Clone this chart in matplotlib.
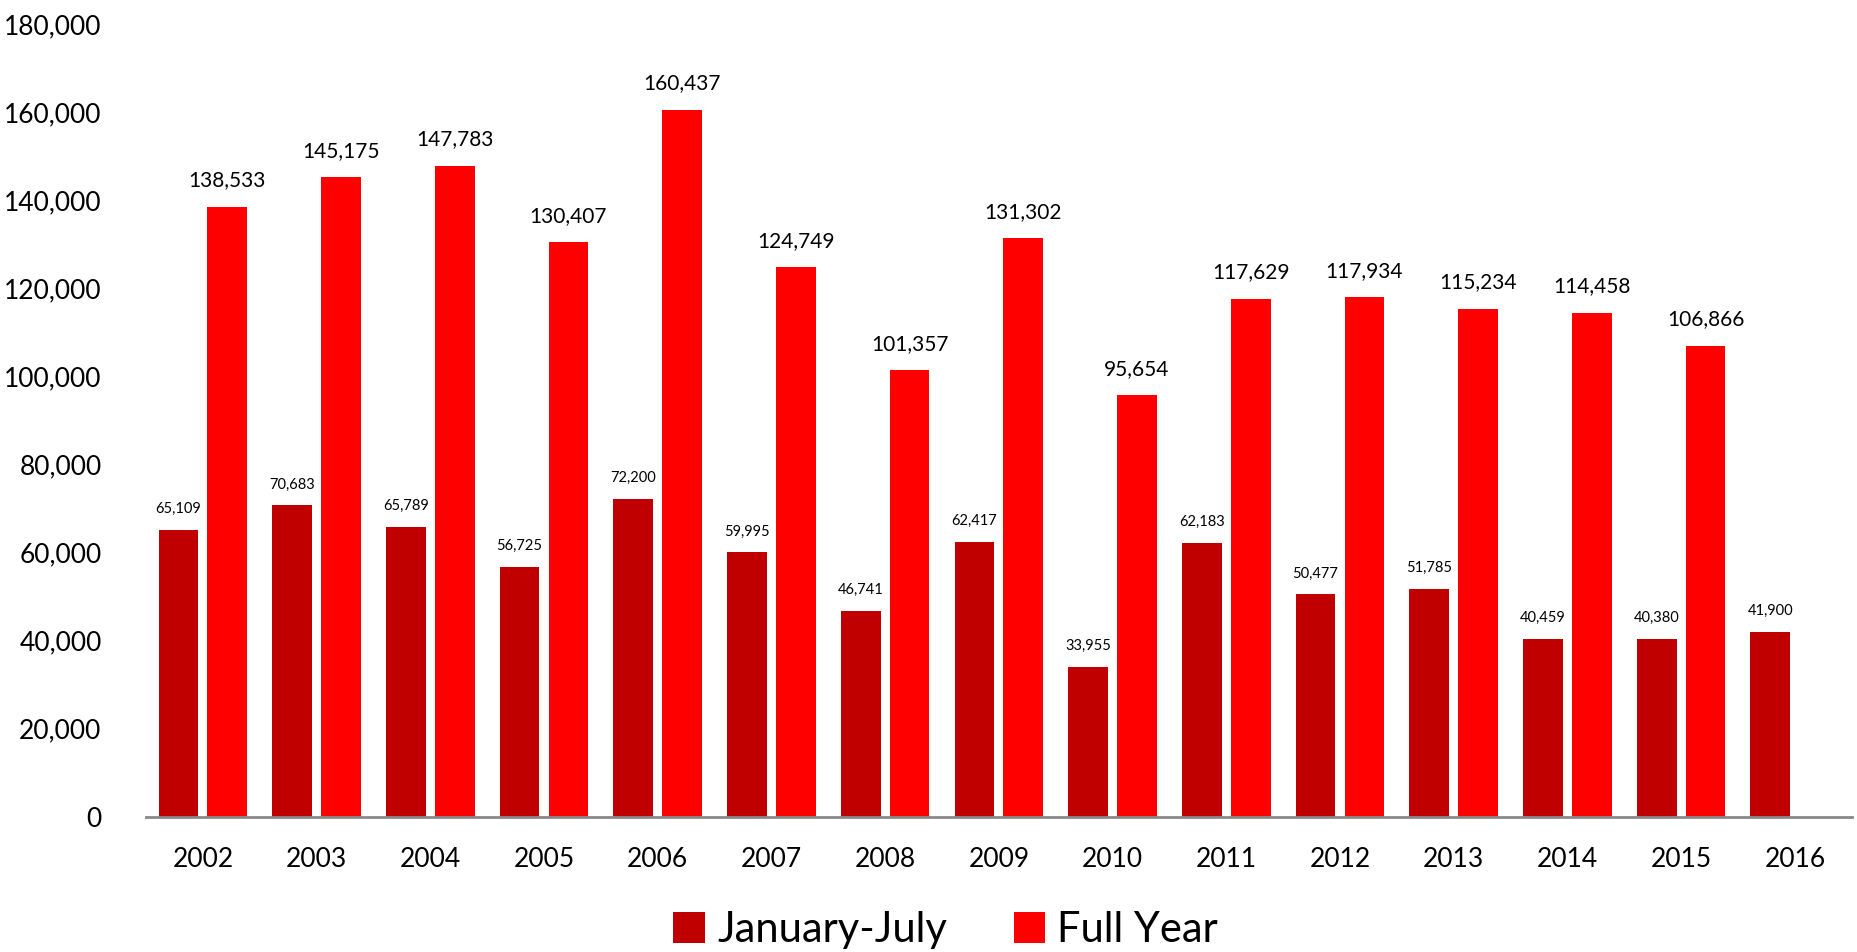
import numpy as np
import matplotlib
matplotlib.use("Agg")
import matplotlib.pyplot as plt
from matplotlib.ticker import FuncFormatter

plt.rcParams["font.family"] = ["Lato", "DejaVu Sans"]

years = ["2002", "2003", "2004", "2005", "2006", "2007", "2008", "2009",
         "2010", "2011", "2012", "2013", "2014", "2015", "2016"]
jan_jul = [65109, 70683, 65789, 56725, 72200, 59995, 46741, 62417,
           33955, 62183, 50477, 51785, 40459, 40380, 41900]
full_year = [138533, 145175, 147783, 130407, 160437, 124749, 101357, 131302,
             95654, 117629, 117934, 115234, 114458, 106866]

dark_red = "#C00000"
bright_red = "#FF0000"

fig = plt.figure(figsize=(18.58, 9.52), dpi=100)
ax = fig.add_axes([0.0786, 0.1421, 0.918, 0.8327])

x = np.arange(len(years))
w = 0.35
off = 0.215

b1 = ax.bar(x - off, jan_jul, width=w, color=dark_red, label="January-July", zorder=2)
b2 = ax.bar(x[:len(full_year)] + off, full_year, width=w, color=bright_red,
            label="Full Year", zorder=2)

fmt = lambda v: f"{v:,.0f}"
for rect, v in zip(b1, jan_jul):
    ax.annotate(fmt(v), (rect.get_x() + rect.get_width() / 2, v),
                xytext=(0, 10), textcoords="offset points",
                ha="center", va="bottom", fontsize=10.5)
for rect, v in zip(b2, full_year):
    ax.annotate(fmt(v), (rect.get_x() + rect.get_width() / 2, v),
                xytext=(0, 12), textcoords="offset points",
                ha="center", va="bottom", fontsize=15)

ax.set_xlim(-0.5, len(years) - 0.5)
ax.set_ylim(0, 180000)
ax.set_yticks(np.arange(0, 180001, 20000))
ax.yaxis.set_major_formatter(FuncFormatter(lambda v, p: f"{v:,.0f}"))
ax.set_xticks(x)
ax.set_xticklabels(years)

ax.tick_params(axis="y", length=0, pad=32, labelsize=19)
ax.tick_params(axis="x", length=0, pad=22, labelsize=19)

for s in ["top", "right", "left"]:
    ax.spines[s].set_visible(False)
ax.spines["bottom"].set_color("#898989")
ax.spines["bottom"].set_linewidth(2)
ax.spines["bottom"].set_zorder(3)

fig.legend(loc="center", bbox_to_anchor=(0.509, 0.023), ncol=2, frameon=False,
           fontsize=30, handlelength=0.75, handleheight=0.75, handletextpad=0.3,
           columnspacing=1.6)

fig.savefig("out.png", dpi=100)
